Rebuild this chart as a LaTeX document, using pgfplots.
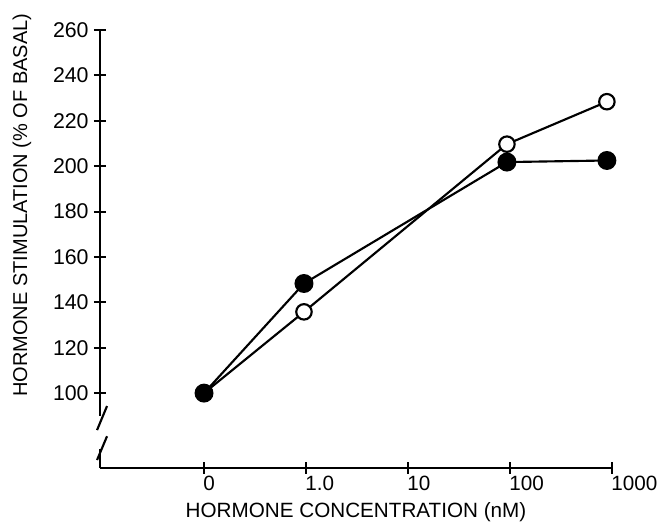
\documentclass[border=0pt]{standalone}
\usepackage{fontspec}
\setmainfont{Liberation Sans}
\usepackage{pgfplots}
\pgfplotsset{compat=1.18}

\begin{document}
\begin{tikzpicture}
\begin{axis}[
  scale only axis,
  width=384pt, height=328.5pt,
  xmin=-1.02, xmax=4,
  ymin=67, ymax=260,
  axis x line=bottom,
  axis y line=left,
  axis line style={-, line width=1.9pt},
  y axis line style={draw=none},
  xtick={0,1,2,3,4},
  xticklabels={0,1.0,10,100,1000},
  ytick={100,120,...,260},
  tick align=center,
  major tick length=9pt,
  every tick/.style={black, line width=1.5pt},
  /pgf/number format/assume math mode=true,
  xticklabel style={font=\fontsize{15.5}{18}\selectfont, anchor=base west, xshift=-4pt, yshift=-12.5pt},
  yticklabel style={font=\fontsize{16}{18}\selectfont, anchor=east, xshift=-0.5pt},
  xlabel={HORMONE CONCENTRATION (nM)},
  xlabel style={font=\fontsize{15.5}{18}\selectfont, at={(axis description cs:0.5,0)}, anchor=base, yshift=-37.5pt},
  clip=false,
]
\coordinate (O) at (rel axis cs:0,0);
% y axis with break
\draw[line width=1.9pt] (axis cs:-1.02,260) -- (axis cs:-1.02,90);
\draw[line width=1.6pt] (axis cs:-0.951,94.3) -- (axis cs:-1.049,83.7);
\draw[line width=1.6pt] (axis cs:-0.951,81) -- (axis cs:-1.049,70.5);
\draw[line width=1.9pt] (axis cs:-1.02,75.5) -- (axis cs:-1.02,67);
\node[rotate=90, font=\fontsize{15}{18}\selectfont] at (rel axis cs:0,0.6) [yshift=58.5pt] {HORMONE STIMULATION (\% OF BASAL)};

% open circles
\addplot[black, line width=1.6pt, mark=*, mark size=5.8pt,
  mark options={fill=white, draw=black, line width=1.6pt}] coordinates {
  (0, 100)
  (0.98, 135.8)
  (2.97, 209.7)
  (3.95, 228.4)
};
% filled circles
\addplot[black, line width=1.6pt, mark=*, mark size=6.3pt,
  mark options={fill=black, draw=black}] coordinates {
  (0, 100)
  (0.98, 148.3)
  (2.97, 201.8)
  (3.95, 202.5)
};
\end{axis}
\pgfresetboundingbox
\path (O) ++(-75pt,-42pt) rectangle ++(493.5pt,393pt);
\end{tikzpicture}
\end{document}
